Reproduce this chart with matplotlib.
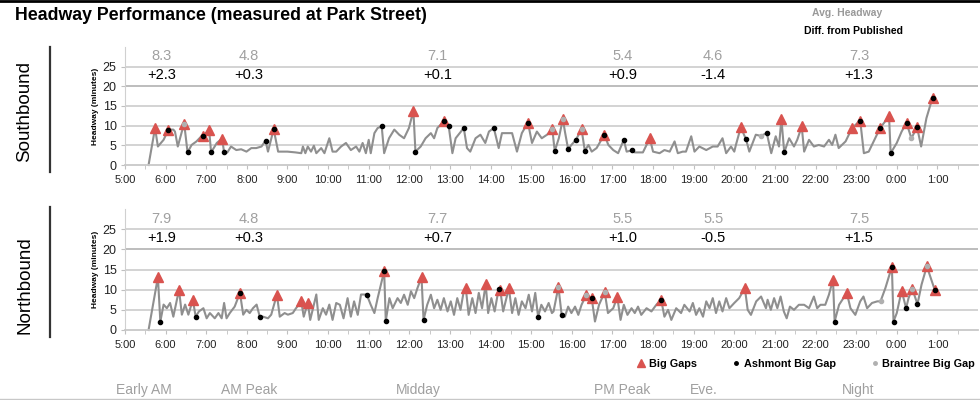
import matplotlib
matplotlib.use("Agg")
from matplotlib import pyplot as plt
from matplotlib.lines import Line2D
from matplotlib.transforms import blended_transform_factory

plt.rcParams['font.family'] = ['Liberation Sans', 'DejaVu Sans']

# hours since midnight (24+ = after midnight), headway in minutes
sb_time = [5.58, 5.74, 5.81, 5.95, 6.07, 6.19, 6.23, 6.30, 6.40, 6.46, 6.54, 6.64, 6.76, 6.88, 6.93,
           7.07, 7.12, 7.26, 7.39, 7.44, 7.52, 7.61, 7.74, 7.86, 7.99, 8.11, 8.23, 8.36, 8.46, 8.52,
           8.66, 8.77, 9.00, 9.20, 9.34, 9.38, 9.44, 9.50, 9.58, 9.65, 9.71, 9.83, 9.91, 10.03, 10.11,
           10.20, 10.32, 10.44, 10.56, 10.69, 10.77, 10.85, 10.93, 11.00, 11.05, 11.14, 11.22, 11.32, 11.38,
           11.50, 11.63, 11.75, 11.87, 11.99, 12.10, 12.15, 12.28, 12.40, 12.53, 12.61, 12.69, 12.85, 12.97,
           13.06, 13.14, 13.24, 13.34, 13.42, 13.50, 13.63, 13.75, 13.87, 13.96, 14.08, 14.20, 14.28, 14.40,
           14.53, 14.65, 14.77, 14.92, 15.02, 15.14, 15.26, 15.39, 15.52, 15.58, 15.68, 15.78, 15.83, 15.91,
           15.99, 16.10, 16.24, 16.32, 16.41, 16.49, 16.61, 16.80, 16.90, 17.02, 17.14, 17.28, 17.35, 17.47,
           17.55, 17.75, 17.92, 18.00, 18.16, 18.28, 18.41, 18.53, 18.61, 18.73, 18.81, 18.94, 19.02, 19.14,
           19.31, 19.47, 19.59, 19.71, 19.80, 19.92, 20.00, 20.04, 20.16, 20.29, 20.37, 20.53, 20.65, 20.80,
           20.91, 21.02, 21.10, 21.16, 21.23, 21.35, 21.47, 21.55, 21.66, 21.72, 21.84, 21.96, 22.08, 22.21,
           22.33, 22.41, 22.49, 22.57, 22.74, 22.90, 23.10, 23.19, 23.31, 23.47, 23.59, 23.81, 23.85, 24.00,
           24.12, 24.24, 24.36, 24.50, 24.60, 24.73, 24.88]
sb_headway = [0, 9.4, 4.7, 6.4, 9.0, 9.0, 8.5, 4.7, 8.5, 10.3, 3.2, 5.1, 6.0, 7.3, 7.4,
              9.0, 3.2, 5.6, 6.7, 3.2, 3.2, 4.7, 3.8, 4.0, 3.4, 4.3, 4.3, 4.7, 6.2, 3.4,
              9.1, 3.4, 3.4, 3.2, 3.0, 4.7, 3.0, 4.7, 3.4, 4.9, 3.0, 4.3, 3.0, 6.8, 3.4,
              3.4, 4.7, 5.6, 3.8, 4.7, 3.4, 5.6, 3.0, 6.4, 3.0, 8.1, 9.4, 9.8, 3.0,
              6.8, 9.0, 7.7, 6.8, 9.4, 13.8, 3.4, 4.7, 6.8, 8.1, 6.8, 9.4, 11.1, 9.8,
              3.0, 6.8, 8.1, 9.4, 4.3, 3.4, 6.8, 7.7, 5.6, 8.5, 9.4, 4.3, 8.1, 8.1,
              8.1, 3.4, 8.1, 10.8, 5.6, 8.5, 6.8, 7.7, 9.1, 3.5, 6.8, 11.7, 8.5, 4.0,
              5.1, 6.4, 9.1, 3.6, 5.1, 3.4, 4.3, 7.7, 5.1, 3.8, 3.0, 6.4, 3.4, 3.7,
              3.2, 3.2, 6.8, 3.4, 3.0, 3.8, 3.4, 6.0, 3.0, 3.4, 3.4, 7.3, 3.4, 4.7,
              3.8, 4.7, 4.7, 6.8, 3.0, 4.7, 3.4, 5.1, 9.6, 6.5, 3.4, 7.7, 7.4, 8.1,
              3.0, 7.3, 4.7, 11.7, 3.2, 6.8, 4.7, 6.4, 9.8, 3.4, 6.4, 4.7, 5.1, 4.7,
              6.4, 5.1, 7.7, 4.3, 6.0, 9.4, 11.3, 3.0, 3.4, 6.8, 9.4, 12.4, 3.0, 5.6,
              8.5, 10.7, 6.8, 9.6, 4.7, 11.9, 17.1]

sb_gap_time = [5.74, 6.07, 6.46, 6.93, 7.07, 7.39, 8.66, 12.10, 12.85, 14.92, 15.52, 15.78, 16.24,
               16.80, 17.92, 20.16, 21.16, 21.66, 22.90, 23.10, 23.59, 23.81, 24.24, 24.50, 24.88]
sb_gap_val = [9.4, 9.0, 10.3, 7.4, 9.0, 6.7, 9.1, 13.8, 11.1, 10.8, 9.1, 11.7, 9.1,
              7.7, 6.8, 9.6, 11.7, 9.8, 9.4, 11.3, 9.4, 12.4, 10.7, 9.6, 17.1]
sb_ash_time = [6.07, 6.54, 6.93, 7.12, 7.44, 8.46, 8.66, 11.32, 12.15, 12.85, 12.97, 13.34, 14.08,
               14.92, 15.58, 15.91, 16.10, 16.32, 16.80, 17.28, 17.47, 20.29, 20.80, 21.23, 23.10,
               23.59, 23.85, 24.24, 24.50, 24.88]
sb_ash_val = [9.0, 3.2, 7.4, 3.2, 3.2, 6.2, 9.1, 9.8, 3.4, 11.1, 9.8, 9.4, 9.4,
              10.8, 3.5, 4.0, 6.4, 3.6, 7.7, 6.4, 3.7, 6.5, 8.1, 3.2, 11.3,
              9.4, 3.0, 10.7, 9.6, 17.1]
sb_brt_time = [6.46, 15.52, 15.78, 16.24, 20.65, 24.36]
sb_brt_val = [10.3, 9.1, 11.7, 9.1, 7.4, 6.8]

nb_time = [5.58, 5.81, 5.87, 5.95, 6.03, 6.11, 6.19, 6.27, 6.33, 6.40, 6.48, 6.56, 6.67, 6.74, 6.82,
           6.93, 7.01, 7.09, 7.21, 7.30, 7.38, 7.44, 7.50, 7.58, 7.70, 7.83, 7.91, 7.99, 8.07, 8.15,
           8.24, 8.32, 8.40, 8.52, 8.60, 8.74, 8.81, 8.93, 9.01, 9.13, 9.21, 9.34, 9.40, 9.50, 9.56,
           9.65, 9.71, 9.77, 9.87, 9.95, 10.03, 10.11, 10.20, 10.29, 10.38, 10.48, 10.56, 10.64, 10.73,
           10.81, 10.95, 11.05, 11.14, 11.22, 11.38, 11.42, 11.51, 11.59, 11.71, 11.79, 11.87, 11.96, 12.04,
           12.12, 12.20, 12.30, 12.35, 12.44, 12.53, 12.61, 12.69, 12.77, 12.85, 12.94, 13.02, 13.10, 13.18,
           13.26, 13.34, 13.39, 13.46, 13.55, 13.63, 13.71, 13.79, 13.88, 13.94, 14.02, 14.10, 14.20, 14.24,
           14.31, 14.45, 14.53, 14.61, 14.69, 14.77, 14.86, 14.94, 15.02, 15.10, 15.17, 15.25, 15.34, 15.43,
           15.51, 15.55, 15.67, 15.75, 15.83, 15.91, 15.99, 16.08, 16.16, 16.24, 16.35, 16.49, 16.57, 16.67,
           16.81, 16.89, 17.02, 17.12, 17.20, 17.28, 17.37, 17.47, 17.55, 17.63, 17.71, 17.84, 17.96, 18.08,
           18.20, 18.28, 18.37, 18.45, 18.57, 18.69, 18.77, 18.90, 18.98, 19.06, 19.14, 19.23, 19.31, 19.39,
           19.47, 19.55, 19.63, 19.71, 19.80, 19.88, 20.00, 20.12, 20.26, 20.33, 20.41, 20.54, 20.66, 20.78,
           20.82, 20.90, 20.98, 21.06, 21.14, 21.22, 21.29, 21.37, 21.47, 21.59, 21.72, 21.84, 21.96, 22.04,
           22.12, 22.24, 22.33, 22.43, 22.47, 22.58, 22.77, 22.86, 22.98, 23.10, 23.18, 23.27, 23.39, 23.52,
           23.60, 23.72, 23.88, 23.92, 24.00, 24.12, 24.23, 24.29, 24.38, 24.51, 24.61, 24.74, 24.94]
nb_headway = [0, 13.1, 2.1, 6.3, 5.4, 6.7, 3.3, 7.1, 10.0, 3.8, 6.3, 3.8, 7.5, 3.3, 4.6,
              5.4, 2.9, 4.2, 2.9, 4.2, 2.9, 6.7, 2.9, 4.2, 5.8, 9.2, 3.8, 5.0, 4.2, 5.4,
              6.3, 3.2, 3.3, 2.9, 3.8, 8.8, 3.3, 4.2, 3.8, 4.2, 5.4, 7.1, 3.3, 6.7, 2.5,
              6.3, 8.8, 2.5, 5.4, 3.8, 6.3, 2.5, 6.7, 6.25, 2.9, 7.9, 3.3, 7.1, 3.75,
              8.8, 8.8, 6.25, 4.2, 7.9, 14.6, 2.3, 7.9, 5.4, 7.9, 6.7, 8.75, 6.25, 9.6,
              7.9, 10.4, 13.1, 2.5, 6.25, 8.75, 5.4, 7.5, 5.0, 7.9, 4.6, 7.1, 3.75, 7.9,
              5.0, 9.6, 10.4, 3.75, 7.9, 4.2, 9.2, 5.4, 11.4, 4.2, 7.9, 4.6, 10.2, 9.8,
              4.6, 10.4, 4.2, 7.9, 3.75, 7.1, 5.4, 8.75, 4.6, 9.2, 3.3, 6.25, 4.6, 6.7,
              4.2, 4.6, 10.7, 3.75, 3.3, 5.8, 4.2, 5.8, 3.75, 6.25, 8.6, 7.9, 2.1, 6.25,
              9.4, 4.2, 5.4, 8.2, 2.5, 6.25, 3.75, 5.4, 4.2, 5.8, 3.75, 5.4, 4.6, 6.25,
              7.5, 3.3, 5.0, 2.5, 5.4, 4.2, 6.25, 4.6, 6.7, 3.75, 5.4, 3.3, 7.1, 5.4,
              7.9, 4.2, 7.1, 4.6, 7.9, 5.4, 6.7, 7.9, 10.4, 5.0, 3.75, 7.1, 8.3, 5.4,
              7.5, 5.0, 7.9, 5.4, 8.3, 4.6, 2.9, 5.8, 5.0, 6.25, 6.25, 5.4, 8.3, 5.4,
              6.25, 6.25, 8.75, 12.5, 2.1, 6.25, 9.2, 5.4, 3.75, 7.1, 8.3, 5.4, 6.7, 7.1,
              7.1, 10.4, 15.7, 2.1, 4.2, 9.75, 5.4, 7.9, 10.25, 6.4, 11.25, 15.8, 9.8]

nb_gap_time = [5.81, 6.33, 6.67, 7.83, 8.74, 9.34, 9.50, 11.38, 12.30, 13.39, 13.88, 14.24, 14.45,
               15.67, 16.35, 16.49, 16.81, 17.12, 18.20, 20.26, 22.43, 22.77, 23.88, 24.12, 24.38,
               24.74, 24.94]
nb_gap_val = [13.1, 10.0, 7.5, 9.2, 8.8, 7.1, 6.7, 14.6, 13.1, 10.4, 11.4, 9.8, 10.4,
              10.7, 8.6, 7.9, 9.4, 8.2, 7.5, 10.4, 12.5, 9.2, 15.7, 9.75, 10.25,
              15.8, 9.8]
nb_ash_time = [5.87, 6.74, 7.83, 8.32, 10.95, 11.38, 11.42, 12.35, 14.20, 15.17, 15.75, 16.49, 18.20,
               22.47, 23.88, 23.92, 24.23, 24.51, 24.94]
nb_ash_val = [2.1, 3.3, 9.2, 3.2, 8.8, 14.6, 2.3, 2.5, 10.2, 3.3, 3.75, 7.9, 7.5,
              2.1, 15.7, 2.1, 5.4, 6.4, 9.8]
nb_brt_time = [15.67, 16.35, 16.81, 23.60, 24.38, 24.74]
nb_brt_val = [10.7, 8.6, 9.4, 7.1, 10.25, 15.8]

periods = ["Early AM", "AM Peak", "Midday", "PM Peak", "Eve.", "Night"]
period_label_x = [5.47, 8.06, 12.23, 17.25, 19.26, 23.06]
period_value_x = [5.9, 8.05, 12.7, 17.25, 19.48, 23.07]
sb_avg = ["8.3", "4.8", "7.1", "5.4", "4.6", "7.3"]
sb_diff = ["+2.3", "+0.3", "+0.1", "+0.9", "-1.4", "+1.3"]
nb_avg = ["7.9", "4.8", "7.7", "5.5", "5.5", "7.5"]
nb_diff = ["+1.9", "+0.3", "+0.7", "+1.0", "-0.5", "+1.5"]

hour_ticks = list(range(5, 26))
hour_labels = ["{}:00".format(h % 24) for h in hour_ticks]

red = '#d9534f'
grey_line = '#8f8f8f'
grey_text = '#a0a0a0'


def draw_panel(ax, t, v, gt, gv, at, av, bt, bv, avgs, diffs):
    for y in [5, 10, 15, 20, 25]:
        ax.axhline(y, color='#b8b8b8' if y == 20 else '#d0d0d0', lw=1.3, zorder=1)
    ax.plot(t, v, color=grey_line, lw=1.5, zorder=2, clip_on=False)
    ax.plot(gt, gv, '^', color=red, ms=7, mec=red, zorder=3, clip_on=False)
    ax.plot(at, av, 'o', color='black', ms=3, zorder=4, clip_on=False)
    ax.plot(bt, bv, 'o', color='#b0b0b0', ms=3, zorder=4, clip_on=False)
    for x, a, d in zip(period_value_x, avgs, diffs):
        ax.text(x, 27.6, a, color=grey_text, fontsize=10.5, ha='center', va='center')
        ax.text(x, 22.8, d, color='black', fontsize=10.5, ha='center', va='center')
    ax.set_xlim(5, 26)
    ax.set_ylim(0, 30)
    ax.set_yticks([0, 5, 10, 15, 20, 25])
    ax.set_xticks(hour_ticks)
    ax.set_xticklabels(hour_labels)
    ax.set_xticks([h + 0.5 for h in range(5, 26)], minor=True)
    ax.tick_params(axis='x', which='both', length=3, color='#c0c0c0', labelsize=8,
                   labelcolor='#222222', pad=4)
    ax.tick_params(axis='y', length=3, color='#c0c0c0', labelsize=9, labelcolor='#222222', pad=3)
    ax.set_ylabel("Headway (minutes)", fontsize=6, fontweight='bold', labelpad=3)
    for s in ['top', 'right']:
        ax.spines[s].set_visible(False)
    ax.spines['left'].set_color('#d0d0d0')
    ax.spines['bottom'].set_color('#c8c8c8')
    ax.spines['bottom'].set_linewidth(1.3)


fig = plt.figure(figsize=(9.8, 4), dpi=100)
ax_sb = fig.add_axes([125 / 980, 1 - 165 / 400, 853 / 980, 118 / 400])
ax_nb = fig.add_axes([125 / 980, 1 - 330 / 400, 853 / 980, 121 / 400])

draw_panel(ax_sb, sb_time, sb_headway, sb_gap_time, sb_gap_val, sb_ash_time, sb_ash_val,
           sb_brt_time, sb_brt_val, sb_avg, sb_diff)
draw_panel(ax_nb, nb_time, nb_headway, nb_gap_time, nb_gap_val, nb_ash_time, nb_ash_val,
           nb_brt_time, nb_brt_val, nb_avg, nb_diff)

# headers and side labels
fig.add_artist(Line2D([0, 1], [0.998, 0.998], color='black', lw=2))
fig.add_artist(Line2D([0, 1], [0.003, 0.003], color='#c8c8c8', lw=1))
fig.text(15 / 980, 1 - 16 / 400, "Headway Performance (measured at Park Street)",
         fontsize=12.8, fontweight='bold', va='center', ha='left')
fig.text(847 / 980, 1 - 13 / 400, "Avg. Headway", color='#999999', fontsize=7.5,
         fontweight='bold', ha='center', va='center')
fig.text(853 / 980, 1 - 31 / 400, "Diff. from Published", color='black', fontsize=7.5,
         fontweight='bold', ha='center', va='center')

fig.text(25 / 980, 1 - 112 / 400, "Southbound", rotation=90, fontsize=13.5, ha='center', va='center')
fig.add_artist(Line2D([50 / 980, 50 / 980], [1 - 47 / 400, 1 - 172 / 400], color='#333333', lw=1.6))
fig.text(25 / 980, 1 - 285 / 400, "Northbound", rotation=90, fontsize=13.5, ha='center', va='center')
fig.add_artist(Line2D([50 / 980, 50 / 980], [1 - 207 / 400, 1 - 337 / 400], color='#333333', lw=1.6))

# period names along the bottom
trans = blended_transform_factory(ax_nb.transData, fig.transFigure)
for x, p in zip(period_label_x, periods):
    ax_nb.text(x, 1 - 390 / 400, p, transform=trans, color=grey_text, fontsize=10,
               ha='center', va='center', clip_on=False)

handles = [Line2D([], [], marker='^', ls='', color=red, ms=6),
           Line2D([], [], marker='o', ls='', color='black', ms=2.5),
           Line2D([], [], marker='o', ls='', color='#b0b0b0', ms=2.5)]
fig.legend(handles, ["Big Gaps", "Ashmont Big Gap", "Braintree Big Gap"], loc='center',
           bbox_to_anchor=(806 / 980, 1 - 364 / 400), ncol=3, frameon=False,
           prop={'size': 7.8, 'weight': 'bold'}, handlelength=0.8, handletextpad=0.3,
           columnspacing=3.2)

fig.savefig('out.png', dpi=100)
